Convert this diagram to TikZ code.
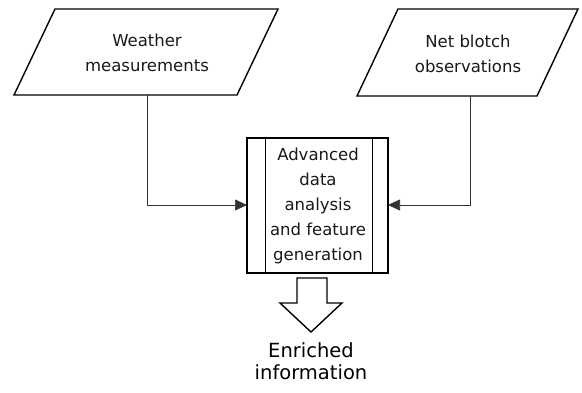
\documentclass[tikz,border=0pt]{standalone}
\usepackage{fontspec}
\setmainfont{DejaVu Sans}
\usetikzlibrary{arrows.meta}
\begin{document}
\begin{tikzpicture}[x=1pt,y=-1pt,
  txt/.style={font=\fontsize{16.5}{25}\selectfont,align=center,text=black!90},
  bigtxt/.style={font=\fontsize{19.5}{22}\selectfont,align=center,text=black},
  shapeline/.style={line width=1.4pt,line join=miter},
  conn/.style={draw=black!80,line width=0.7pt,-{Triangle[length=12pt,width=11pt]}}]
\useasboundingbox (0,0) rectangle (582,392);
% left parallelogram
\draw[shapeline] (55,9) -- (278,9) -- (237,95) -- (14,95) -- cycle;
\node[txt] (wm) at (147,53) {Weather\\measurements};
\coordinate (wmb) at (147,95);
% right parallelogram
\draw[shapeline] (398,9) -- (578,9) -- (537,96) -- (357,96) -- cycle;
\node[txt] (nb) at (468,54) {Net blotch\\observations};
\coordinate (nbb) at (470,96);
% process box
\draw[shapeline] (247,138) rectangle (388,273);
\draw[line width=1pt] (265,138) -- (265,273) (372,138) -- (372,273);
\coordinate (pl) at (247,205);
\coordinate (pr) at (388,205);
\node[txt] (pb) at (318,206) {Advanced\\data\\analysis\\and feature\\generation};
% connectors
\draw[conn] (wmb) |- (pl);
\draw[conn] (nbb) |- (pr);
% big hollow arrow
\draw[shapeline] (297,278) -- (327,278) -- (327,303) -- (342,303) -- (311,332)
  -- (280,303) -- (297,303) -- cycle;
\node[bigtxt] (ei) at (311,361) {Enriched\\information};
\end{tikzpicture}
\end{document}
